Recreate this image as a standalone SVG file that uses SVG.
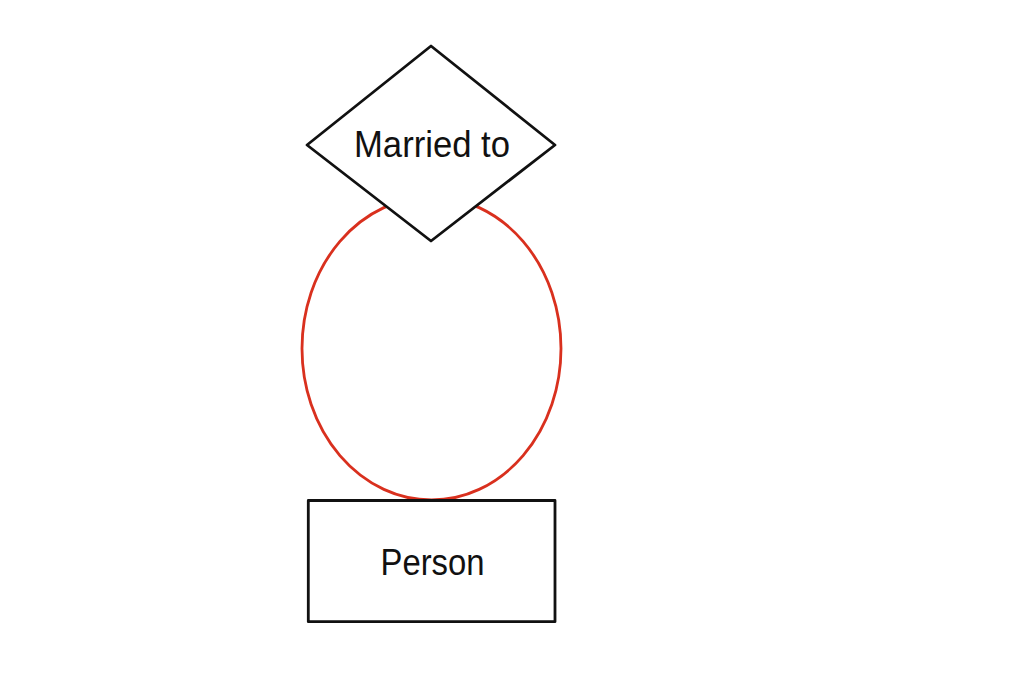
<svg xmlns="http://www.w3.org/2000/svg" width="1024" height="683" viewBox="0 0 1024 683">
<style>
.shape{fill:#fff;stroke:#111;stroke-width:2.8;stroke-linejoin:round}
.lbl{font-family:"Liberation Sans",Arial,sans-serif;font-size:36px;fill:#111;text-anchor:middle}
.conn{fill:none;stroke:#d9301e;stroke-width:2.8}
</style>
<rect width="1024" height="683" fill="#fff"/>
<g id="connectors">
<ellipse class="conn" cx="431.5" cy="348.5" rx="129.5" ry="151.5"/>
</g>
<g id="married-to">
<polygon class="shape" points="431,46 555,145 431,241 307,145"/>
<text class="lbl" x="432" y="157" textLength="156" lengthAdjust="spacingAndGlyphs">Married to</text>
</g>
<g id="person">
<rect class="shape" x="308.3" y="500.5" width="246.7" height="121.2"/>
<text class="lbl" x="432.5" y="575" textLength="104" lengthAdjust="spacingAndGlyphs">Person</text>
</g>
</svg>
